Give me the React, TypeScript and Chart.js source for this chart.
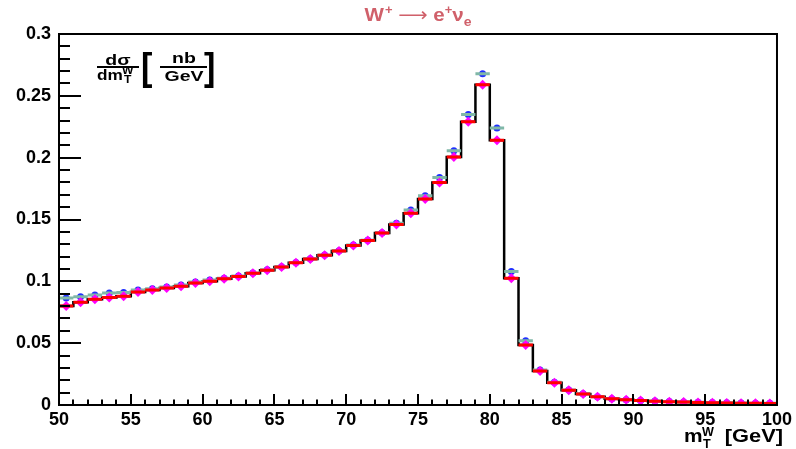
import React, { useEffect, useRef } from 'react';
import { Chart, registerables } from 'chart.js';

Chart.register(...registerables);

// Bin edges of m_T^W [GeV]
const binEdges = [
  50, 51, 52, 53, 54, 55, 56, 57, 58, 59,
  60, 61, 62, 63, 64, 65, 66, 67, 68, 69,
  70, 71, 72, 73, 74, 75, 76, 77, 78, 79,
  80, 81, 82, 83, 84, 85, 86, 87, 88, 89,
  90, 91, 92, 93, 94, 95, 96, 97, 98, 99, 100,
];

// dσ/dm_T^W [nb/GeV] – main (red / black histogram) series
const sigmaMain = [
  0.080, 0.083, 0.0855, 0.087, 0.088, 0.0913, 0.093, 0.0946, 0.096, 0.0986,
  0.100, 0.102, 0.104, 0.1065, 0.109, 0.1115, 0.115, 0.118, 0.121, 0.1245,
  0.129, 0.133, 0.139, 0.146, 0.155, 0.1665, 0.180, 0.2005, 0.229, 0.259,
  0.214, 0.1025, 0.0485, 0.0275, 0.018, 0.012, 0.0089, 0.0066, 0.005, 0.0042,
  0.0036, 0.0031, 0.0027, 0.0024, 0.0021, 0.0019, 0.0017, 0.0015, 0.0014, 0.0013,
];

// second (blue / teal) series
const sigmaAlt = [
  0.0865, 0.0875, 0.089, 0.0905, 0.091, 0.093, 0.094, 0.0955, 0.097, 0.0995,
  0.101, 0.1025, 0.1043, 0.1068, 0.1093, 0.1118, 0.1153, 0.1183, 0.1213, 0.1248,
  0.1293, 0.1333, 0.1393, 0.147, 0.1577, 0.1692, 0.184, 0.2055, 0.235, 0.2679,
  0.224, 0.1079, 0.052, 0.0283, 0.0183, 0.0122, 0.009, 0.0067, 0.0051, 0.0043,
  0.0037, 0.0032, 0.0028, 0.0025, 0.0022, 0.0020, 0.0018, 0.0016, 0.0015, 0.0014,
];

const xTickValues = [50, 55, 60, 65, 70, 75, 80, 85, 90, 95, 100];
const xTickLabels = ['50', '55', '60', '65', '70', '75', '80', '85', '90', '95', '100'];
const yTickValues = [0, 0.05, 0.1, 0.15, 0.2, 0.25, 0.3];
const yTickLabels = ['0', '0.05', '0.1', '0.15', '0.2', '0.25', '0.3'];

const FONT = '"Liberation Sans", Arial, Helvetica, sans-serif';

type Part = { t: string; font: string; dy?: number; dx?: number };

function drawParts(
  ctx: CanvasRenderingContext2D,
  parts: Part[],
  x: number,
  baseline: number,
  align: 'left' | 'center' | 'right',
  color: string,
  sx = 1,
) {
  ctx.save();
  ctx.textAlign = 'left';
  ctx.textBaseline = 'alphabetic';
  ctx.fillStyle = color;
  let total = 0;
  const widths = parts.map((p) => {
    ctx.font = p.font;
    const w = (ctx.measureText(p.t).width + (p.dx || 0)) * sx;
    total += w;
    return w;
  });
  let cx = align === 'left' ? x : align === 'center' ? x - total / 2 : x - total;
  parts.forEach((p, i) => {
    ctx.font = p.font;
    ctx.setTransform(sx, 0, 0, 1, cx + (p.dx || 0) * sx, baseline + (p.dy || 0));
    ctx.fillText(p.t, 0, 0);
    cx += widths[i];
  });
  ctx.restore();
}

const decorPlugin = {
  id: 'rootDecor',
  afterDraw(chart: any) {
    const { ctx, chartArea: a } = chart;
    const xs = chart.scales.x;
    const ys = chart.scales.y;
    ctx.save();
    ctx.strokeStyle = '#000';
    ctx.lineWidth = 2;
    ctx.strokeRect(a.left, a.top, a.right - a.left, a.bottom - a.top);

    // y ticks (inward)
    ctx.beginPath();
    for (let k = 0; k <= 30; k++) {
      const py = Math.round(ys.getPixelForValue(k / 100));
      const len = k % 5 === 0 ? 22 : 11;
      ctx.moveTo(a.left, py);
      ctx.lineTo(a.left + len, py);
    }
    // x ticks (inward)
    for (let g = 50; g <= 100; g++) {
      const px = Math.round(xs.getPixelForValue(g));
      const len = g % 5 === 0 ? 11 : 5.5;
      ctx.moveTo(px, a.bottom);
      ctx.lineTo(px, a.bottom - len);
    }
    ctx.stroke();

    // Title  W+ -> e+ nu_e
    const tc = '#d0606a';
    drawParts(ctx, [
      { t: 'W', font: `bold 19px ${FONT}` },
      { t: '+', font: `bold 12px ${FONT}`, dy: -7, dx: 1 },
      { t: ' ', font: `bold 19px ${FONT}` },
      { t: '⟶', font: `19px "DejaVu Sans"` },
      { t: ' ', font: `bold 19px ${FONT}` },
      { t: 'e', font: `bold 19px ${FONT}` },
      { t: '+', font: `bold 12px ${FONT}`, dy: -7 },
      { t: 'ν', font: `bold 19px ${FONT}` },
      { t: 'e', font: `bold 13px ${FONT}`, dy: 5 },
    ], (a.left + a.right) / 2, 21, 'center', tc, 1.08);

    // y-axis label: dσ/dm_T^W [nb/GeV]
    const lf = `bold 15px ${FONT}`;
    const sf = `bold 11px ${FONT}`;
    const S = 1.3;
    drawParts(ctx, [{ t: 'dσ', font: lf }], 118, 65, 'center', '#000', S);
    ctx.lineWidth = 2;
    ctx.beginPath();
    ctx.moveTo(97, 67); ctx.lineTo(139, 67);
    ctx.moveTo(160, 67); ctx.lineTo(207, 67);
    ctx.stroke();
    drawParts(ctx, [{ t: 'dm', font: lf }], 97, 80, 'left', '#000', 1.15);
    drawParts(ctx, [{ t: 'W', font: sf }], 122, 74, 'left', '#000', 1.1);
    drawParts(ctx, [{ t: 'T', font: sf }], 124, 83, 'left', '#000', 1.1);
    drawParts(ctx, [{ t: 'nb', font: lf }], 184, 63, 'center', '#000', S);
    drawParts(ctx, [{ t: 'GeV', font: lf }], 184, 81, 'center', '#000', S);
    // brackets
    ctx.save();
    ctx.fillStyle = '#000';
    ctx.font = `bold 38px ${FONT}`;
    ctx.textBaseline = 'alphabetic';
    ctx.setTransform(0.9, 0, 0, 1, 141, 80);
    ctx.fillText('[', 0, 0);
    ctx.setTransform(0.9, 0, 0, 1, 204, 80);
    ctx.fillText(']', 0, 0);
    ctx.restore();

    // x-axis label  m_T^W [GeV]
    const xf = `bold 19px ${FONT}`;
    const xsf = `bold 12px ${FONT}`;
    drawParts(ctx, [{ t: 'm', font: xf }], 684, 442, 'left', '#000', 1.1);
    drawParts(ctx, [{ t: 'W', font: xsf }], 702, 436, 'left', '#000', 1.05);
    drawParts(ctx, [{ t: 'T', font: xsf }], 703, 448, 'left', '#000', 1.05);
    drawParts(ctx, [{ t: '[GeV]', font: xf }], 783, 442, 'right', '#000', 1.15);
    ctx.restore();
  },
};

export default function App() {
  const ref = useRef<HTMLCanvasElement>(null);
  useEffect(() => {
    document.body.style.margin = '0';
    const nBins = sigmaMain.length;
    const centers = sigmaMain.map((_, i) => (binEdges[i] + binEdges[i + 1]) / 2);

    const histPts = sigmaMain.map((v, i) => ({ x: binEdges[i], y: v }));
    histPts.push({ x: binEdges[nBins], y: sigmaMain[nBins - 1] });

    const barPts = (vals: number[]) => {
      const out: { x: number; y: number | null }[] = [];
      vals.forEach((v, i) => {
        out.push({ x: binEdges[i], y: v });
        out.push({ x: binEdges[i + 1], y: v });
        out.push({ x: binEdges[i + 1], y: null });
      });
      return out;
    };

    const chart = new Chart(ref.current!, {
      type: 'line',
      data: {
        datasets: [
          {
            // red horizontal error bars (top-most)
            data: barPts(sigmaMain) as any,
            borderColor: '#ff0000',
            borderWidth: 3,
            pointRadius: 0,
            spanGaps: false,
            borderCapStyle: 'butt',
            order: 0,
          },
          {
            data: sigmaMain.map((v, i) => ({ x: centers[i], y: v })),
            showLine: false,
            pointStyle: 'rectRot',
            pointRadius: 5,
            pointBackgroundColor: '#ff00ff',
            pointBorderColor: '#ff00ff',
            pointBorderWidth: 0,
            order: 1,
          },
          {
            data: barPts(sigmaAlt) as any,
            borderColor: '#80b8a8',
            borderWidth: 3,
            pointRadius: 0,
            spanGaps: false,
            borderCapStyle: 'butt',
            order: 2,
          },
          {
            data: sigmaAlt.map((v, i) => ({ x: centers[i], y: v })),
            showLine: false,
            pointStyle: 'circle',
            pointRadius: 3.5,
            pointBackgroundColor: '#2030ff',
            pointBorderColor: '#2030ff',
            pointBorderWidth: 0,
            order: 3,
          },
          {
            // black step histogram
            data: histPts,
            borderColor: '#000000',
            borderWidth: 2.5,
            pointRadius: 0,
            stepped: 'before',
            order: 4,
          },
        ],
      },
      options: {
        animation: false,
        responsive: false,
        events: [],
        layout: { padding: { top: 34, right: 16, left: 0, bottom: 0 } },
        plugins: {
          legend: { display: false },
          tooltip: { enabled: false },
          title: { display: false },
        },
        scales: {
          x: {
            type: 'linear',
            min: 50,
            max: 100,
            afterBuildTicks: (s: any) => {
              s.ticks = xTickValues.map((v) => ({ value: v }));
            },
            afterFit: (s: any) => {
              s.height = 44;
            },
            ticks: {
              autoSkip: false,
              maxRotation: 0,
              padding: 4,
              color: '#000',
              font: { family: FONT, weight: 'bold', size: 18 },
              callback: (v: any) => xTickLabels[xTickValues.indexOf(Number(v))],
            },
            grid: { display: false, drawTicks: false },
            border: { display: false },
          },
          y: {
            type: 'linear',
            min: 0,
            max: 0.3,
            afterBuildTicks: (s: any) => {
              s.ticks = yTickValues.map((v) => ({ value: v }));
            },
            afterFit: (s: any) => {
              s.width = 59;
            },
            ticks: {
              autoSkip: false,
              padding: 8,
              color: '#000',
              font: { family: FONT, weight: 'bold', size: 18 },
              callback: (v: any) => yTickLabels[yTickValues.indexOf(Number(v))],
            },
            grid: { display: false, drawTicks: false },
            border: { display: false },
          },
        },
      },
      plugins: [decorPlugin],
    } as any);
    return () => chart.destroy();
  }, []);

  return (
    <div style={{ position: 'absolute', left: 0, top: 0, width: 796, height: 449, background: '#fff' }}>
      <canvas ref={ref} width={796} height={449} style={{ display: 'block', width: 796, height: 449 }} />
    </div>
  );
}
